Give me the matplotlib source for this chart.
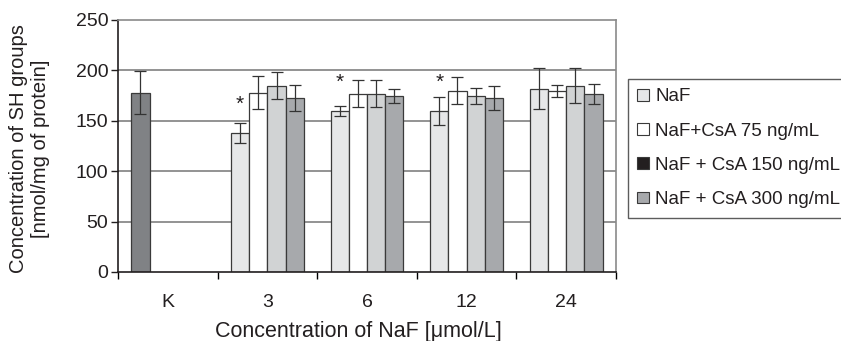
import matplotlib
matplotlib.use("Agg")
import matplotlib.pyplot as plt
from matplotlib.patches import Patch
import numpy as np

plt.rcParams['font.family'] = ['Liberation Sans', 'DejaVu Sans']

categories = ["K", "3", "6", "12", "24"]
series_names = ["NaF", "NaF+CsA 75 ng/mL", "NaF + CsA 150 ng/mL", "NaF + CsA 300 ng/mL"]

# values per series (None = no bar); K = control, drawn in first slot
naf      = [178, 138, 160, 160, 182]
csa75    = [None, 178, 177, 180, 180]
csa150   = [None, 185, 177, 175, 185]
csa300   = [None, 173, 175, 173, 177]
naf_err    = [21, 10, 5, 14, 20]
csa75_err  = [0, 16, 13, 13, 6]
csa150_err = [0, 13, 13, 8, 17]
csa300_err = [0, 13, 7, 12, 10]

# significance markers (category, y)
star_cats = ["3", "6", "12"]
star_y = [166, 188, 188]

values = [naf, csa75, csa150, csa300]
errors = [naf_err, csa75_err, csa150_err, csa300_err]
bar_colors = ["#e6e7e8", "#ffffff", "#d1d3d4", "#a7a9ac"]
k_color = "#808285"
legend_colors = ["#e6e7e8", "#ffffff", "#231f20", "#a7a9ac"]

fig = plt.figure(figsize=(8.41, 3.41), dpi=100)
ax = fig.add_axes([118/841, 1-272/341, 498/841, 252/341])

x = np.arange(len(categories))
w = 0.183
text_c = "#231f20"

for gy in [50, 100, 150, 200]:
    ax.axhline(gy, color="#808080", lw=1.2, zorder=0)

for i, (vals, errs) in enumerate(zip(values, errors)):
    for j, (v, e) in enumerate(zip(vals, errs)):
        if v is None:
            continue
        c = bar_colors[i]
        if categories[j] == "K":
            c = k_color
        xp = x[j] + (i - 1.5) * w
        ax.bar(xp, v, width=w, color=c, edgecolor="#3a3a3a", linewidth=0.9, zorder=2)
        ax.errorbar(xp, v, yerr=e, fmt="none", ecolor="#333333", elinewidth=0.9,
                    capsize=4, capthick=0.9, zorder=3)

for cat, sy in zip(star_cats, star_y):
    j = categories.index(cat)
    ax.text(x[j] - 1.5 * w, sy, "*", ha="center", va="center", fontsize=15, color=text_c)

ax.set_xlim(-0.5, len(categories) - 0.5)
ax.set_ylim(0, 250)
ax.set_yticks([0, 50, 100, 150, 200, 250])
ax.tick_params(axis="y", direction="out", length=5, width=1, pad=2, labelsize=14, colors=text_c)

ax.set_xticks(np.arange(-0.5, len(categories)), labels=[""] * (len(categories) + 1))
ax.set_xticks(x, labels=categories, minor=True)
ax.tick_params(axis="x", which="major", direction="out", length=5, width=1)
ax.tick_params(axis="x", which="minor", length=0, pad=16, labelsize=14, colors=text_c)

ax.spines["left"].set_color("#231f20")
ax.spines["bottom"].set_color("#231f20")
ax.spines["top"].set_color("#8a8a8a")
ax.spines["right"].set_color("#8a8a8a")
for s in ax.spines.values():
    s.set_linewidth(1.2)

ax.set_xlabel("Concentration of NaF [μmol/L]", fontsize=15.5, color=text_c)
ax.xaxis.set_label_coords(0.482, -0.195)
ax.set_ylabel("Concentration of SH groups\n[nmol/mg of protein]", fontsize=14.5,
              color=text_c, linespacing=1.2)
ax.yaxis.set_label_coords(-0.137, 0.49)

handles = [Patch(facecolor=c, edgecolor="#3a3a3a", linewidth=0.8) for c in legend_colors]
leg = fig.legend(handles, series_names, loc="upper left",
                 bbox_to_anchor=(628/841, 1-79/341), fontsize=13.5, frameon=True,
                 fancybox=False, edgecolor="#333333", handlelength=0.6, handleheight=0.6,
                 handletextpad=0.35, labelspacing=0.92, borderpad=0.5, borderaxespad=0)
leg.get_frame().set_linewidth(1.0)
for t in leg.get_texts():
    t.set_color(text_c)

fig.savefig("out.png", dpi=100)
